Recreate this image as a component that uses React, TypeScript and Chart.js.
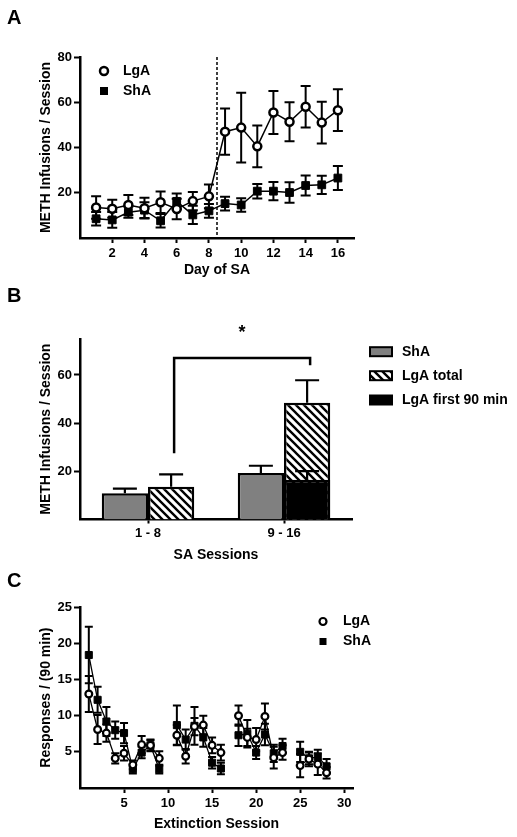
import React, { useEffect, useRef } from 'react';
import { Chart, registerables } from 'chart.js';

Chart.register(...registerables);

const FONT_FAMILY = '"Liberation Sans", Arial, Helvetica, sans-serif';
Chart.defaults.font.family = FONT_FAMILY;
Chart.defaults.color = '#000';

// ---------------- Panel A : METH infusions per SA day ----------------
const daysA = [1, 2, 3, 4, 5, 6, 7, 8, 9, 10, 11, 12, 13, 14, 15, 16];
const lgaA = [13.5, 12.9, 14.6, 13.2, 15.8, 12.8, 16.3, 18.4, 47, 48.8, 40.5, 55.5, 51.4, 58, 51, 56.5];
const lgaErrA = [5, 4, 4.4, 4.6, 4.7, 4.5, 4, 5.2, 10.2, 15.4, 9.2, 9.5, 8.6, 9.2, 9.2, 9.2];
const shaA = [8.5, 8, 11.4, 12.3, 7.6, 16.2, 10.2, 12, 15.2, 14.6, 20.7, 20.7, 20.1, 23.2, 23.5, 26.5];
const shaErrA = [3, 3.5, 2.5, 3.5, 3, 3.5, 4, 3, 3, 3, 3.2, 4, 4.5, 4.4, 4, 5.3];
const xTicksA = [2, 4, 6, 8, 10, 12, 14, 16];
const yTicksA = [20, 40, 60, 80];
const splitDayA = 8.5;

// ---------------- Panel B : mean infusions by SA block ----------------
const sessionsB = ['1 - 8', '9 - 16'];
const shaB = [10.9, 19.3];
const shaErrB = [1.9, 3];
const lgaTotalB = [13.6, 48.5];
const lgaTotalErrB = [5.1, 9.3];
const lgaFirst90B = [null, 16.5];
const lgaFirst90ErrB = [null, 3.6];
const yTicksB = [20, 40, 60];
const bracketB = { y: 67, leftBottom: 27.5, rightBottom: 64 };

// ---------------- Panel C : extinction responses ----------------
const sessionsC = [1, 2, 3, 4, 5, 6, 7, 8, 9, 10, 11, 12, 13, 14, 15, 16, 17, 18, 19, 20, 21, 22, 23, 24, 25, 26, 27, 28];
const lgaC = [13, 8.1, 7.6, 4.1, 4.8, 3.2, 6, 5.9, 4.1, null, 7.3, 4.4, 8.5, 8.7, 5.9, 4.9, null, 10, 7, 6.7, 9.9, 4.2, 4.9, null, 3.1, 4, 3.3, 2.1];
const lgaErrC = [2.5, 2, 1.2, 0.7, 1, 0.6, 1.2, 0.8, 1, null, 1.4, 1, 1.2, 1.3, 1.1, 1.1, null, 1.4, 1.2, 1.6, 1.8, 1.5, 1, null, 1.6, 1, 1.5, 0.8];
const shaC = [18.4, 12.2, 9.2, 8, 7.6, 2.6, 4.9, 5.9, 2.6, null, 8.7, 6.7, 8.6, 7, 3.5, 2.7, null, 7.3, 7.5, 4.9, 7.4, 4.8, 5.8, null, 5, 4.1, 4.3, 3];
const shaErrC = [3.9, 1.8, 2, 1.2, 1.4, 0.6, 0.8, 0.7, 0.6, null, 2.7, 1.4, 2.6, 1.3, 0.8, 0.8, null, 1.5, 1.9, 0.9, 1.5, 1.2, 1, null, 1.4, 0.8, 1, 1];
const xTicksC = [5, 10, 15, 20, 25, 30];
const yTicksC = [5, 10, 15, 20, 25];

const tickFont = { size: 13, weight: 'bold' as const };
const titleFont = { size: 14, weight: 'bold' as const };

function yAxis(ticks: number[], max: number, title: string) {
  return {
    type: 'linear' as const,
    min: 0,
    max,
    afterBuildTicks: (s: any) => {
      s.ticks = ticks.map((v) => ({ value: v }));
    },
    afterFit: (s: any) => {
      s.width = 80;
    },
    ticks: { font: tickFont, padding: 2, color: '#000' },
    grid: { drawOnChartArea: false, drawTicks: true, tickLength: 6, tickWidth: 2, tickColor: '#000' },
    border: { display: true, color: '#000', width: 2.5 },
    title: { display: true, text: title, font: titleFont, color: '#000', padding: { top: 37.6, bottom: 0 } },
  };
}

function xAxisCommon(height: number, tickLength: number, pad: number, title: string) {
  return {
    afterFit: (s: any) => {
      s.height = height;
    },
    ticks: { font: tickFont, padding: pad, color: '#000', maxRotation: 0, autoSkip: false },
    grid: { drawOnChartArea: false, drawTicks: true, tickLength, tickWidth: 2, tickColor: '#000', offset: false },
    border: { display: true, color: '#000', width: 2.5 },
    title: { display: true, text: title, font: titleFont, color: '#000', padding: { top: 0, bottom: 0 } },
  };
}

function errorBars(id: string, cap: number, width: number, upOnly: boolean, after: boolean) {
  const draw = (chart: any) => {
    const ctx = chart.ctx;
    const ys = chart.scales.y;
    ctx.save();
    ctx.strokeStyle = '#000';
    ctx.lineWidth = width;
    chart.data.datasets.forEach((ds: any, di: number) => {
      if (!ds.errors) return;
      const meta = chart.getDatasetMeta(di);
      meta.data.forEach((el: any, i: number) => {
        const raw = ds.data[i];
        const v = raw !== null && typeof raw === 'object' ? raw.y : raw;
        const e = ds.errors[i];
        if (v === null || v === undefined || e === null || e === undefined) return;
        const x = el.x;
        const yHi = ys.getPixelForValue(v + e);
        const yLo = upOnly ? ys.getPixelForValue(v) : ys.getPixelForValue(v - e);
        ctx.beginPath();
        ctx.moveTo(x, yLo);
        ctx.lineTo(x, yHi);
        ctx.moveTo(x - cap, yHi);
        ctx.lineTo(x + cap, yHi);
        if (!upOnly) {
          ctx.moveTo(x - cap, yLo);
          ctx.lineTo(x + cap, yLo);
        }
        ctx.stroke();
      });
    });
    ctx.restore();
  };
  return after ? { id, afterDatasetsDraw: draw } : { id, beforeDatasetsDraw: draw };
}

function drawCircleMarker(ctx: CanvasRenderingContext2D, x: number, y: number, r: number, bw: number) {
  ctx.beginPath();
  ctx.arc(x, y, r, 0, Math.PI * 2);
  ctx.fillStyle = '#fff';
  ctx.fill();
  ctx.lineWidth = bw;
  ctx.strokeStyle = '#000';
  ctx.stroke();
}

function pointLegend(id: string, x: number, y1: number, y2: number, tx: number, r: number, bw: number, sq: number) {
  return {
    id,
    afterDraw: (chart: any) => {
      const ctx = chart.ctx;
      ctx.save();
      drawCircleMarker(ctx, x, y1, r, bw);
      ctx.fillStyle = '#000';
      ctx.fillRect(x - sq / 2, y2 - sq / 2, sq, sq);
      ctx.font = `bold 14px ${FONT_FAMILY}`;
      ctx.textBaseline = 'middle';
      ctx.textAlign = 'left';
      ctx.fillText('LgA', tx, y1);
      ctx.fillText('ShA', tx, y2);
      ctx.restore();
    },
  };
}

function makeHatch(): CanvasPattern | string {
  const c = document.createElement('canvas');
  c.width = 8;
  c.height = 8;
  const g = c.getContext('2d');
  if (!g) return '#fff';
  g.fillStyle = '#fff';
  g.fillRect(0, 0, 8, 8);
  g.strokeStyle = '#000';
  g.lineWidth = 2.4;
  g.beginPath();
  g.moveTo(-2, -2);
  g.lineTo(10, 10);
  g.moveTo(-2, 6);
  g.lineTo(2, 10);
  g.moveTo(6, -2);
  g.lineTo(10, 2);
  g.stroke();
  return g.createPattern(c, 'repeat') || '#fff';
}

export default function App() {
  const refA = useRef<HTMLCanvasElement | null>(null);
  const refB = useRef<HTMLCanvasElement | null>(null);
  const refC = useRef<HTMLCanvasElement | null>(null);

  useEffect(() => {
    if (!refA.current || !refB.current || !refC.current) return;
    const hatch = makeHatch();

    // ---------- A ----------
    const dividerPlugin = {
      id: 'divider',
      afterDatasetsDraw: (chart: any) => {
        const { ctx, chartArea } = chart;
        const x = chart.scales.x.getPixelForValue(splitDayA);
        ctx.save();
        ctx.strokeStyle = '#000';
        ctx.lineWidth = 1.5;
        ctx.setLineDash([3, 2]);
        ctx.beginPath();
        ctx.moveTo(x, chartArea.top);
        ctx.lineTo(x, chartArea.bottom);
        ctx.stroke();
        ctx.restore();
      },
    };

    const chartA = new Chart(refA.current, {
      type: 'line',
      data: {
        datasets: [
          {
            label: 'LgA',
            data: daysA.map((d, i) => ({ x: d, y: lgaA[i] })),
            errors: lgaErrA,
            borderColor: '#000',
            borderWidth: 1.5,
            pointStyle: 'circle',
            pointRadius: 4,
            pointBorderWidth: 2.5,
            pointBackgroundColor: '#fff',
            pointBorderColor: '#000',
            tension: 0,
            fill: false,
          } as any,
          {
            label: 'ShA',
            data: daysA.map((d, i) => ({ x: d, y: shaA[i] })),
            errors: shaErrA,
            borderColor: '#000',
            borderWidth: 1.5,
            pointStyle: 'rect',
            pointRadius: 5.5,
            pointBorderWidth: 1,
            pointBackgroundColor: '#000',
            pointBorderColor: '#000',
            tension: 0,
            fill: false,
          } as any,
        ],
      },
      options: {
        animation: false,
        responsive: false,
        events: [],
        layout: { padding: { left: 0, top: 57, right: 163, bottom: 6.6 } },
        scales: {
          x: {
            type: 'linear',
            min: 0,
            max: 17,
            afterBuildTicks: (s: any) => {
              s.ticks = xTicksA.map((v) => ({ value: v }));
            },
            ...xAxisCommon(40.4, 5, 3, 'Day of SA'),
          } as any,
          y: yAxis(yTicksA, 80, 'METH Infusions / Session') as any,
        },
        plugins: { legend: { display: false }, tooltip: { enabled: false } },
      },
      plugins: [errorBars('errA', 5, 2, false, false), dividerPlugin, pointLegend('legA', 104, 71, 91, 123, 4, 2.5, 8)],
    });

    // ---------- B ----------
    const bracketPlugin = {
      id: 'bracket',
      afterDatasetsDraw: (chart: any) => {
        const { ctx } = chart;
        const ys = chart.scales.y;
        const metaLga = chart.getDatasetMeta(2);
        const xl = metaLga.data[0].x + 3;
        const xr = metaLga.data[1].x + 3;
        const yTop = ys.getPixelForValue(bracketB.y);
        ctx.save();
        ctx.strokeStyle = '#000';
        ctx.lineWidth = 2.5;
        ctx.beginPath();
        ctx.moveTo(xl, ys.getPixelForValue(bracketB.leftBottom));
        ctx.lineTo(xl, yTop);
        ctx.lineTo(xr, yTop);
        ctx.lineTo(xr, ys.getPixelForValue(bracketB.rightBottom));
        ctx.stroke();
        ctx.fillStyle = '#000';
        ctx.font = `bold 18px ${FONT_FAMILY}`;
        ctx.textAlign = 'center';
        ctx.textBaseline = 'middle';
        ctx.fillText('*', (xl + xr) / 2, yTop - 25);
        ctx.restore();
      },
    };

    const legendB = {
      id: 'legendB',
      afterDraw: (chart: any) => {
        const { ctx } = chart;
        const items = [
          { label: 'ShA', fill: '#808080', y: 66.7 },
          { label: 'LgA total', fill: hatch, y: 90.7 },
          { label: 'LgA first 90 min', fill: '#000', y: 115 },
        ];
        ctx.save();
        items.forEach((it) => {
          ctx.fillStyle = it.fill as any;
          ctx.fillRect(370, it.y - 4.5, 22, 9);
          ctx.strokeStyle = '#000';
          ctx.lineWidth = 2;
          ctx.strokeRect(370, it.y - 4.5, 22, 9);
          ctx.fillStyle = '#000';
          ctx.font = `bold 14px ${FONT_FAMILY}`;
          ctx.textAlign = 'left';
          ctx.textBaseline = 'middle';
          ctx.fillText(it.label, 402, it.y);
        });
        ctx.restore();
      },
    };

    const chartB = new Chart(refB.current, {
      type: 'bar',
      data: {
        labels: sessionsB,
        datasets: [
          {
            label: 'ShA',
            data: shaB,
            errors: shaErrB,
            stack: 'sha',
            backgroundColor: '#808080',
            borderColor: '#000',
            borderWidth: 2.5,
            categoryPercentage: 0.68,
            barPercentage: 1,
          } as any,
          {
            label: 'LgA first 90 min',
            data: lgaFirst90B,
            errors: lgaFirst90ErrB,
            stack: 'lga',
            backgroundColor: '#000',
            borderColor: '#000',
            borderWidth: 2.5,
            categoryPercentage: 0.68,
            barPercentage: 1,
          } as any,
          {
            label: 'LgA total',
            data: lgaTotalB,
            errors: lgaTotalErrB,
            stack: 'lga',
            backgroundColor: hatch,
            borderColor: '#000',
            borderWidth: 2.5,
            categoryPercentage: 0.68,
            barPercentage: 1,
          } as any,
        ],
      },
      options: {
        animation: false,
        responsive: false,
        events: [],
        layout: { padding: { left: 0, top: 53.8, right: 165, bottom: 6.6 } },
        scales: {
          x: {
            type: 'category',
            stacked: true,
            offset: true,
            ...xAxisCommon(43.9, 4, 2, 'SA Sessions'),
          } as any,
          y: { ...(yAxis(yTicksB, 75, 'METH Infusions / Session') as any), stacked: false },
        },
        plugins: { legend: { display: false }, tooltip: { enabled: false } },
      },
      plugins: [errorBars('errB', 12, 2.2, true, true), bracketPlugin, legendB],
    });

    // ---------- C ----------
    const chartC = new Chart(refC.current, {
      type: 'line',
      data: {
        datasets: [
          {
            label: 'LgA',
            data: sessionsC.map((d, i) => ({ x: d, y: lgaC[i] })),
            errors: lgaErrC,
            borderColor: '#000',
            borderWidth: 1.3,
            pointStyle: 'circle',
            pointRadius: 3.4,
            pointBorderWidth: 2.2,
            pointBackgroundColor: '#fff',
            pointBorderColor: '#000',
            spanGaps: false,
            tension: 0,
            fill: false,
          } as any,
          {
            label: 'ShA',
            data: sessionsC.map((d, i) => ({ x: d, y: shaC[i] })),
            errors: shaErrC,
            borderColor: '#000',
            borderWidth: 1.3,
            pointStyle: 'rect',
            pointRadius: 5,
            pointBorderWidth: 1,
            pointBackgroundColor: '#000',
            pointBorderColor: '#000',
            spanGaps: false,
            tension: 0,
            fill: false,
          } as any,
        ],
      },
      options: {
        animation: false,
        responsive: false,
        events: [],
        layout: { padding: { left: 0, top: 37.3, right: 164, bottom: 4.6 } },
        scales: {
          x: {
            type: 'linear',
            min: 0,
            max: 31,
            afterBuildTicks: (s: any) => {
              s.ticks = xTicksC.map((v) => ({ value: v }));
            },
            ...xAxisCommon(44.4, 5, 2.5, 'Extinction Session'),
          } as any,
          y: yAxis(yTicksC, 25, 'Responses / (90 min)') as any,
        },
        plugins: { legend: { display: false }, tooltip: { enabled: false } },
      },
      plugins: [errorBars('errC', 4, 2, false, false), pointLegend('legC', 323, 51.5, 71.5, 343, 3.5, 2.2, 7)],
    });

    return () => {
      chartA.destroy();
      chartB.destroy();
      chartC.destroy();
    };
  }, []);

  const letter = (top: number): React.CSSProperties => ({
    position: 'absolute',
    left: 7,
    top,
    fontFamily: FONT_FAMILY,
    fontWeight: 'bold',
    fontSize: 20,
    lineHeight: '20px',
    color: '#000',
  });

  return (
    <div style={{ position: 'absolute', left: 0, top: 0, width: 517, height: 837, background: '#fff', overflow: 'hidden' }}>
      <canvas ref={refA} width={517} height={285} style={{ position: 'absolute', left: 0, top: 0 }} />
      <canvas ref={refB} width={517} height={285} style={{ position: 'absolute', left: 0, top: 285 }} />
      <canvas ref={refC} width={517} height={267} style={{ position: 'absolute', left: 0, top: 570 }} />
      <div style={letter(7.4)}>A</div>
      <div style={letter(285.4)}>B</div>
      <div style={letter(570)}>C</div>
    </div>
  );
}
